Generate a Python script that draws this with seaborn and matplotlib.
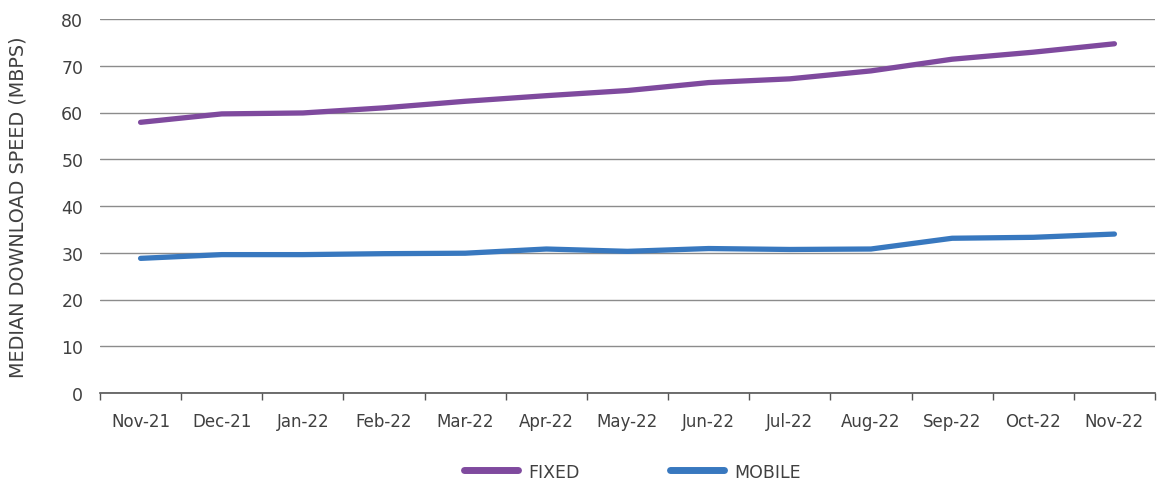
import numpy as np
import pandas as pd
import matplotlib
matplotlib.use("Agg")
import matplotlib.pyplot as plt
import seaborn as sns

# Data
meses = ["Nov-21", "Dec-21", "Jan-22", "Feb-22", "Mar-22", "Apr-22", "May-22",
         "Jun-22", "Jul-22", "Aug-22", "Sep-22", "Oct-22", "Nov-22"]
fixed = [57.9, 59.7, 59.9, 61.0, 62.4, 63.6, 64.7, 66.4, 67.2, 68.9, 71.4, 72.9, 74.7]
mobile = [28.8, 29.6, 29.6, 29.8, 29.9, 30.8, 30.3, 30.9, 30.7, 30.8, 33.1, 33.3, 34.0]
series = ["FIXED", "MOBILE"]
y_ticks = [0, 10, 20, 30, 40, 50, 60, 70, 80]

colores = {"FIXED": "#7f4a9e", "MOBILE": "#3878bf"}
texto = "#404040"

df = pd.DataFrame({
    "mes": meses * 2,
    "valor": fixed + mobile,
    "serie": [series[0]] * len(meses) + [series[1]] * len(meses),
})

sns.set_theme(style="white")
plt.rcParams["font.family"] = ["DejaVu Sans"]

fig = plt.figure(figsize=(11.58, 4.81), dpi=100)
ax = fig.add_axes([100 / 1158, 87 / 481, 1055 / 1158, 374 / 481])

sns.lineplot(data=df, x="mes", y="valor", hue="serie", palette=colores,
             linewidth=3.8, sort=False, ax=ax, legend=True)
for linea in ax.lines:
    linea.set_solid_capstyle("round")
    linea.set_solid_joinstyle("round")

# Ejes
ax.set_xlim(-0.5, len(meses) - 0.5)
ax.set_ylim(0, 80)
ax.set_yticks(y_ticks)
ax.yaxis.grid(True, color="#8c8c8c", linewidth=1.0)
ax.set_axisbelow(True)
for lado in ["top", "right", "left"]:
    ax.spines[lado].set_visible(False)
ax.spines["bottom"].set_color("#555555")
ax.spines["bottom"].set_linewidth(1.2)

ax.set_xticks(range(len(meses)))
ax.set_xticklabels(meses)
ax.set_xticks(np.arange(-0.5, len(meses), 1.0), minor=True)
ax.tick_params(axis="x", which="major", length=0, pad=14, labelsize=12, labelcolor=texto)
ax.tick_params(axis="x", which="minor", length=5, width=1, color="#555555", direction="out", bottom=True)
ax.tick_params(axis="y", length=0, pad=12, labelsize=12.5, labelcolor=texto)

ax.set_xlabel("")
ax.set_ylabel("MEDIAN DOWNLOAD SPEED (MBPS)", fontsize=13.8, color=texto, labelpad=24)

handles, labels = ax.get_legend_handles_labels()
for h in handles:
    h.set_linewidth(5)
    h.set_solid_capstyle("round")
ax.legend(handles, labels, loc="center", bbox_to_anchor=(0.505, -0.21),
          ncol=2, frameon=False, handlelength=3.1, columnspacing=5.2,
          handletextpad=0.6, fontsize=12.5, labelcolor=texto)

fig.savefig("out.png", dpi=100)
